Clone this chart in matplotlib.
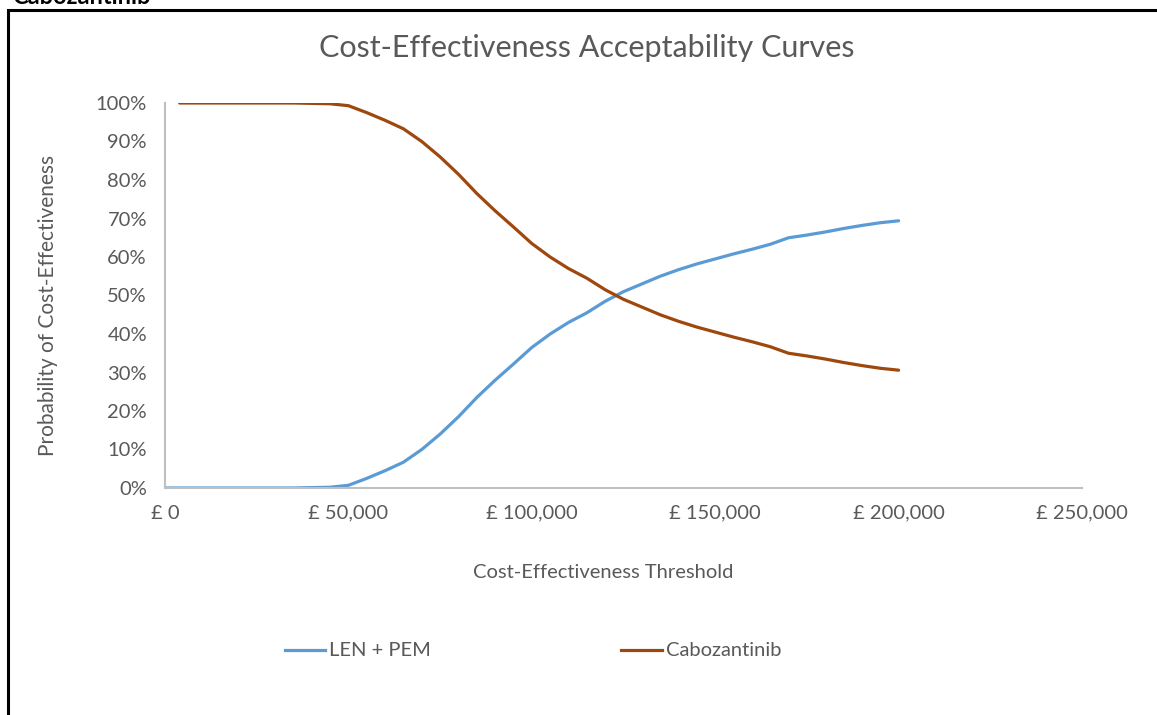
import matplotlib
matplotlib.use("Agg")
import matplotlib.pyplot as plt
from matplotlib.patches import Rectangle
from matplotlib.ticker import FuncFormatter, MultipleLocator

# ---- data ----
thresholds = [0, 5000, 10000, 15000, 20000, 25000, 30000, 35000, 40000, 45000,
              50000, 55000, 60000, 65000, 70000, 75000, 80000, 85000, 90000, 95000,
              100000, 105000, 110000, 115000, 120000, 125000, 130000, 135000, 140000,
              145000, 150000, 155000, 160000, 165000, 170000, 175000, 180000, 185000,
              190000, 195000, 200000]
len_pem = [0.0, 0.0, 0.0, 0.0, 0.0, 0.0, 0.0, 0.0, 0.1, 0.2,
           0.7, 2.5, 4.5, 6.7, 10.0, 14.0, 18.5, 23.5, 28.0, 32.2,
           36.5, 40.0, 43.0, 45.5, 48.5, 51.0, 53.0, 55.0, 56.7,
           58.2, 59.5, 60.8, 62.0, 63.3, 65.0, 65.7, 66.5, 67.4,
           68.2, 68.9, 69.4]
cabo_thresholds = [4000] + thresholds[1:]
cabozantinib = [100.0, 100.0, 100.0, 100.0, 100.0, 100.0, 100.0, 100.0, 99.9, 99.8,
                99.3, 97.5, 95.5, 93.3, 90.0, 86.0, 81.5, 76.5, 72.0, 67.8,
                63.5, 60.0, 57.0, 54.5, 51.5, 49.0, 47.0, 45.0, 43.3,
                41.8, 40.5, 39.2, 38.0, 36.7, 35.0, 34.3, 33.5, 32.6,
                31.8, 31.1, 30.6]
series_names = ["LEN + PEM", "Cabozantinib"]
title = "Cost-Effectiveness Acceptability Curves"
x_label = "Cost-Effectiveness Threshold"
y_label = "Probability of Cost-Effectiveness"

# ---- style ----
W, H, DPI = 1157, 715, 100
txt = "#595959"
blue = "#5B9BD5"
brown = "#9E480E"
plt.rcParams['font.family'] = ['Lato', 'DejaVu Sans']

fig = plt.figure(figsize=(W / DPI, H / DPI), dpi=DPI)

def fx(px):
    return px / W

def fy(py):
    return 1 - py / H

ax = fig.add_axes([fx(165), fy(488), fx(1082) - fx(165), fy(103) - fy(488)])

ax.plot(thresholds, [v / 100 for v in len_pem], color=blue, lw=2.3,
        solid_capstyle='round', label=series_names[0])
ax.plot(cabo_thresholds, [v / 100 for v in cabozantinib], color=brown, lw=2.3,
        solid_capstyle='round', label=series_names[1])

ax.set_xlim(0, 250000)
ax.set_ylim(0, 1)
ax.xaxis.set_major_locator(MultipleLocator(50000))
ax.yaxis.set_major_locator(MultipleLocator(0.1))
ax.xaxis.set_major_formatter(FuncFormatter(lambda v, p: "£ {:,.0f}".format(v)))
ax.yaxis.set_major_formatter(FuncFormatter(lambda v, p: "{:.0f}%".format(v * 100)))
ax.tick_params(axis='both', length=0, labelsize=14.5, labelcolor=txt)
ax.tick_params(axis='x', pad=12)
ax.tick_params(axis='y', pad=13)
for s in ['top', 'right']:
    ax.spines[s].set_visible(False)
for s in ['left', 'bottom']:
    ax.spines[s].set_color("#BFBFBF")
    ax.spines[s].set_linewidth(1.5)

fig.text(fx(587), fy(48), title, ha='center', va='center', fontsize=22, color=txt)
fig.text(fx(603), fy(572), x_label, ha='center', va='center', fontsize=14.5, color=txt)
fig.text(fx(48), fy(305), y_label, ha='center', va='center', rotation=90, fontsize=15, color=txt)

# legend drawn manually in figure coordinates
leg_y = fy(650)
fig.add_artist(plt.Line2D([fx(285), fx(325)], [leg_y, leg_y], color=blue, lw=2.3,
                          transform=fig.transFigure))
fig.text(fx(329), leg_y, series_names[0], ha='left', va='center', fontsize=14.5, color=txt)
fig.add_artist(plt.Line2D([fx(621), fx(662)], [leg_y, leg_y], color=brown, lw=2.3,
                          transform=fig.transFigure))
fig.text(fx(666), leg_y, series_names[1], ha='left', va='center', fontsize=14.5, color=txt)

# outer border (cropped at right and bottom in the reference)
fig.add_artist(Rectangle((fx(8), fy(740)), fx(1200) - fx(8), fy(10) - fy(740),
                         transform=fig.transFigure, fill=False, ec='black', lw=2.2))

# cut-off heading above the chart frame
fig.text(fx(12), fy(-4), "Cabozantinib", ha='left', va='center', fontsize=17,
         fontweight='bold', color='black')

fig.savefig("out.png", dpi=DPI)
